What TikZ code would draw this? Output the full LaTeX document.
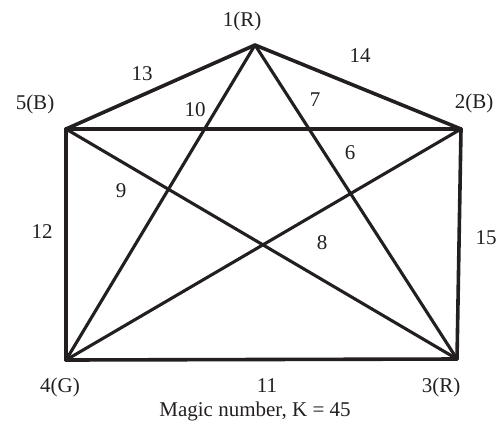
\documentclass[tikz,border=0pt]{standalone}
\usepackage{fontspec}
\setmainfont{Liberation Serif}
\usepackage{tikz}
\usetikzlibrary{positioning}
\definecolor{edgecolor}{RGB}{35, 31, 32}
\definecolor{labelcolor}{RGB}{35, 31, 32}
\tikzset{
vertexlabel/.style={
  inner sep=0pt,
  font=\fontsize{21}{25}\selectfont,
  text=labelcolor
},
weightlabel/.style={
  vertexlabel
},
outeredge/.style={
  draw=edgecolor,
  line width=3.6pt,
  line cap=round
},
staredge/.style={
  draw=edgecolor,
  line width=3.1pt,
  line cap=round
}
}

\begin{document}
\begin{tikzpicture}[x=1pt, y=-1pt]
\useasboundingbox (0,0) rectangle (502,426);

% ============================================================================
% VERTICES
% ============================================================================
\coordinate (v1) at (255,45);
\coordinate (v2) at (461,129);
\coordinate (v3) at (457,359);
\coordinate (v4) at (66,360);
\coordinate (v5) at (66,129);

\node[vertexlabel] (l1) at (242,21) {1(R)};
\node[vertexlabel] (l2) at (474,103) {2(B)};
\node[vertexlabel] (l3) at (441,387) {3(R)};
\node[vertexlabel] (l4) at (60,387) {4(G)};
\node[vertexlabel] (l5) at (35,104) {5(B)};

% ============================================================================
% EDGES
% ============================================================================
\draw[outeredge] (v1) -- (v2);
\draw[outeredge] (v2) -- (v3);
\draw[outeredge] (v3) -- (v4);
\draw[outeredge] (v4) -- (v5);
\draw[outeredge] (v5) -- (v1);

\draw[staredge] (v1) -- (v3);
\draw[staredge] (v1) -- (v4);
\draw[staredge] (v2) -- (v4);
\draw[staredge] (v2) -- (v5);
\draw[staredge] (v5) -- (v3);

% ============================================================================
% EDGE NUMBERS
% ============================================================================
\node[weightlabel] (w14) at (360,56) {14};
\node[weightlabel] (w15) at (486,238) {15};
\node[weightlabel] (w11) at (267,386) {11};
\node[weightlabel] (w12) at (42,232) {12};
\node[weightlabel] (w13) at (142,74) {13};
\node[weightlabel] (w7) at (315,100) {7};
\node[weightlabel] (w10) at (195,110) {10};
\node[weightlabel] (w6) at (350,153) {6};
\node[weightlabel] (w9) at (121,191) {9};
\node[weightlabel] (w8) at (322,243) {8};

\node[vertexlabel] (magic) at (255,411) {Magic number, K = 45};

\end{tikzpicture}
\end{document}
